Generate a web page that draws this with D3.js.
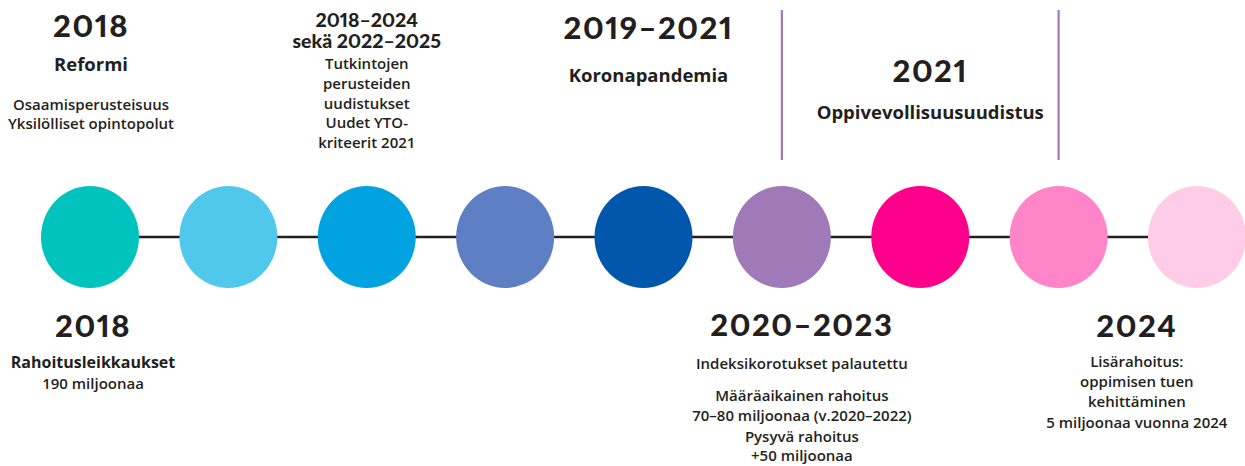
<!DOCTYPE html>
<html>
<head>
<meta charset="utf-8">
<script src="https://cdn.jsdelivr.net/npm/d3@7"></script>
<style>
  html, body { margin: 0; padding: 0; background: #fff; }
  #chart { width: 1245px; height: 466px; }
</style>
</head>
<body>
<div id="chart"></div>
<script>
// Timeline nodes
const nodeColors = ['#00c3bd', '#4fc8ec', '#00a3e0', '#5e7fc4', '#0057ab', '#a07ab8', '#ff008c', '#ff85c8', '#ffcce8'];
const nodeIndex = d3.range(nodeColors.length);

// Events above the line: anchor node, heading lines, bold line, body lines
const topAnchors = [0, 2, 4, 6];
const topYears = [['2018'], ['2018–2024', 'sekä 2022–2025'], ['2019–2021'], ['2021']];
const topTitles = ['Reformi', null, 'Koronapandemia', 'Oppivevollisuusuudistus'];
const topBodies = [
  ['Osaamisperusteisuus', 'Yksilölliset opintopolut'],
  ['Tutkintojen', 'perusteiden', 'uudistukset', 'Uudet YTO-', 'kriteerit 2021'],
  [],
  []
];

// Events below the line
const bottomAnchors = [0, 5, 7.5];
const bottomYears = ['2018', '2020–2023', '2024'];
const bottomTitles = ['Rahoitusleikkaukset', null, null];
const bottomBodies = [
  [['190 miljoonaa']],
  [['Indeksikorotukset palautettu'], ['Määräaikainen rahoitus', '70–80 miljoonaa (v.2020–2022)'], ['Pysyvä rahoitus', '+50 miljoonaa']],
  [['Lisärahoitus:', 'oppimisen tuen', 'kehittäminen', '5 miljoonaa vuonna 2024']]
];

// Purple dividers sit on these nodes
const dividerNodes = [5, 7];

const W = 1245, H = 466;
const svg = d3.select('#chart').append('svg')
  .attr('width', W).attr('height', H)
  .attr('viewBox', `0 0 ${W} ${H}`);

const x = d3.scaleLinear().domain([0, nodeColors.length - 1]).range([90, 1197]);
const lineY = 237;
const ink = '#231f20';
const headFont = 'Lato, sans-serif';
const bodyFont = '"Open Sans", Lato, sans-serif';

// Connector line
svg.append('line')
  .attr('x1', x(0)).attr('x2', x(nodeColors.length - 1))
  .attr('y1', lineY).attr('y2', lineY)
  .attr('stroke', ink).attr('stroke-width', 2.5);

// Nodes
svg.selectAll('ellipse.node').data(nodeIndex).join('ellipse')
  .attr('class', 'node')
  .attr('cx', d => x(d)).attr('cy', lineY)
  .attr('rx', 49).attr('ry', 51)
  .attr('fill', d => nodeColors[d]);

// Dividers
svg.selectAll('line.div').data(dividerNodes).join('line')
  .attr('class', 'div')
  .attr('x1', d => x(d)).attr('x2', d => x(d))
  .attr('y1', 10).attr('y2', 160)
  .attr('stroke', '#a07ab8').attr('stroke-width', 2.2);

function year(g, str, y, size) {
  g.append('text').attr('y', y)
    .attr('text-anchor', 'middle')
    .attr('font-family', headFont).attr('font-size', size).attr('font-weight', 900)
    .attr('letter-spacing', size > 25 ? 1.5 : 0)
    .style('font-variant-numeric', 'proportional-nums')
    .attr('fill', ink).text(str);
}
function txt(g, str, y, size, weight) {
  g.append('text').attr('y', y)
    .attr('text-anchor', 'middle')
    .attr('font-family', bodyFont).attr('font-size', size).attr('font-weight', weight)
    .attr('fill', ink).text(str);
}

// Top events
const topLayout = [
  { dx: 1, years: [37], title: 71, body: [110, 129] },
  { dx: 0, years: [27, 48], title: null, body: [69, 89, 109, 128, 148] },
  { dx: 5, years: [39], title: 82, body: [] },
  { dx: 10, years: [82], title: 119, body: [] }
];
topAnchors.forEach((a, i) => {
  const g = svg.append('g').attr('transform', `translate(${x(a) + topLayout[i].dx},0)`);
  const big = topYears[i].length > 1 ? 19.5 : 31;
  topYears[i].forEach((s, j) => year(g, s, topLayout[i].years[j], big));
  if (topTitles[i]) txt(g, topTitles[i], topLayout[i].title, 18.5, 700);
  topBodies[i].forEach((s, j) => txt(g, s, topLayout[i].body[j], 15, 600));
});

// Bottom events
const bottomLayout = [
  { dx: 3, year: 337, title: 368, groups: [[389]] },
  { dx: 20, year: 336, title: null, groups: [[369], [401, 421], [442, 461]] },
  { dx: 9, year: 337, title: null, groups: [[367, 387, 407, 428]] }
];
bottomAnchors.forEach((a, i) => {
  const g = svg.append('g').attr('transform', `translate(${x(a) + bottomLayout[i].dx},0)`);
  year(g, bottomYears[i], bottomLayout[i].year, 31);
  if (bottomTitles[i]) txt(g, bottomTitles[i], bottomLayout[i].title, 16, 700);
  bottomBodies[i].forEach((grp, k) => grp.forEach((s, j) =>
    txt(g, s, bottomLayout[i].groups[k][j], 15, 600)));
});
</script>
</body>
</html>
